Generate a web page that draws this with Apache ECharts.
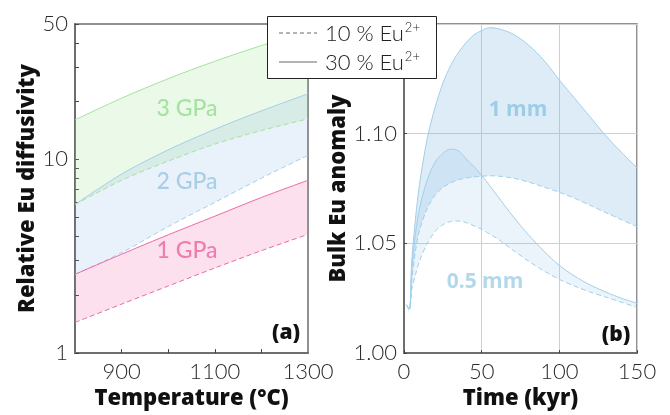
<!DOCTYPE html>
<html>
<head>
<meta charset="utf-8">
<script src="https://cdn.jsdelivr.net/npm/echarts@6/dist/echarts.min.js"></script>
<style>
html, body { margin: 0; padding: 0; background: #fff; }
#main { width: 670px; height: 415px; }
</style>
</head>
<body>
<div id="main"></div>
<script>
// panel (a): relative Eu diffusivity vs temperature
var tempC = [800, 900, 1000, 1100, 1200, 1300];
var gpa3_30 = [16.0, 20.7, 26.1, 32.1, 38.7, 46.0];
var gpa3_10 = [5.85, 7.8, 9.8, 12.0, 14.1, 16.2];
var gpa2_30 = [5.85, 8.4, 11.2, 14.3, 17.8, 21.8];
var gpa2_10 = [2.55, 3.3, 4.5, 6.0, 8.0, 10.5];
var gpa1_30 = [2.55, 3.24, 4.08, 5.09, 6.36, 7.8];
var gpa1_10 = [1.44, 1.79, 2.22, 2.75, 3.38, 4.10];

// panel (b): bulk Eu anomaly vs time
var timeKyr = [1.5, 3.5, 5, 7.5, 10, 15, 20, 25, 30, 35, 40, 45, 50, 55, 60, 70, 80, 90, 100, 110, 120, 130, 140, 150];
var mm1_30 = [1.022, 1.020, 1.042, 1.062, 1.077, 1.098, 1.112, 1.123, 1.131, 1.137, 1.1415, 1.145, 1.147, 1.1483, 1.148, 1.1455, 1.1405, 1.1335, 1.1245, 1.116, 1.1075, 1.099, 1.0915, 1.0844];
var mm1_10 = [1.022, 1.020, 1.033, 1.047, 1.056, 1.066, 1.072, 1.0755, 1.0775, 1.079, 1.0798, 1.0803, 1.0806, 1.0808, 1.0807, 1.0798, 1.078, 1.0757, 1.0733, 1.0705, 1.0673, 1.064, 1.0608, 1.0576];
var mm05_30 = [1.022, 1.020, 1.038, 1.055, 1.066, 1.079, 1.087, 1.091, 1.093, 1.0922, 1.0885, 1.085, 1.081, 1.0765, 1.0718, 1.0625, 1.054, 1.0465, 1.040, 1.035, 1.031, 1.0278, 1.025, 1.0227];
var mm05_10 = [1.022, 1.020, 1.029, 1.036, 1.042, 1.050, 1.0555, 1.0585, 1.060, 1.0602, 1.0595, 1.058, 1.0564, 1.0543, 1.0522, 1.047, 1.042, 1.0375, 1.0336, 1.0305, 1.0278, 1.0255, 1.0232, 1.0208];

var yTicksA = [1, 2, 3, 4, 5, 6, 7, 8, 9, 10, 20, 30, 40, 50];
var yLabelsA = [1, 10, 50];
var xLabelsA = [900, 1100, 1300];
var xTicksA = [900, 1000, 1100, 1200];
var yLabelsB = [1.00, 1.05, 1.10];
var legendNames = ['10 % Eu', '30 % Eu'];

var FONT = 'Lato, "Open Sans", sans-serif';
var HEAVY = '"Open Sans", Lato, sans-serif';
var AXIS = '#6e6e6e';
var SMOOTH = 0.3;

function zip(xs, ys) {
    return xs.map(function (x, i) { return [x, ys[i]]; });
}

function band(g, xs, lo, hi, color) {
    return {
        type: 'custom',
        xAxisIndex: g, yAxisIndex: g,
        silent: true, z: 1, clip: true,
        data: [[xs[0], lo[0]]],
        renderItem: function (params, api) {
            var top = [], bottom = [];
            for (var i = 0; i < xs.length; i++) {
                top.push(api.coord([xs[i], hi[i]]));
                bottom.push(api.coord([xs[i], lo[i]]));
            }
            // fill: smoothed upper edge, straight join, smoothed lower edge
            var p = [top[0]];
            var ctl = function (pts, k) {
                var a = pts[Math.max(k - 1, 0)], b = pts[k], c = pts[Math.min(k + 1, pts.length - 1)];
                return [(c[0] - a[0]) * SMOOTH / 2, (c[1] - a[1]) * SMOOTH / 2];
            };
            var d = 'M' + top[0][0] + ',' + top[0][1];
            function edge(pts) {
                for (var k = 1; k < pts.length; k++) {
                    var t0 = ctl(pts, k - 1), t1 = ctl(pts, k);
                    d += 'C' + (pts[k - 1][0] + t0[0]) + ',' + (pts[k - 1][1] + t0[1]) + ' ' +
                        (pts[k][0] - t1[0]) + ',' + (pts[k][1] - t1[1]) + ' ' + pts[k][0] + ',' + pts[k][1];
                }
            }
            edge(top);
            var rev = bottom.slice().reverse();
            d += 'L' + rev[0][0] + ',' + rev[0][1];
            edge(rev);
            d += 'Z';
            return { type: 'path', shape: { pathData: d }, style: { fill: color } };
        }
    };
}

function curve(g, xs, ys, color, dashed) {
    return {
        type: 'line',
        xAxisIndex: g, yAxisIndex: g,
        data: zip(xs, ys),
        symbol: 'none', silent: true, z: 3, smooth: SMOOTH,
        lineStyle: { color: color, width: 1, type: dashed ? [5, 3] : 'solid' }
    };
}

var tickLabel = { fontSize: 22, fontWeight: 300, color: '#2a2a2a', fontFamily: FONT };
var axisName = { fontSize: 22, fontWeight: 800, color: '#111', fontFamily: HEAVY };

var GREEN = '#a3e39c', BLUE = '#a6cde6', PINK = '#ec6aa3', BLUE_B = '#a0cfe8';

var chart = echarts.init(document.getElementById('main'));
chart.setOption({
    animation: false,
    textStyle: { fontFamily: FONT },
    grid: [
        { left: 75, top: 24, width: 233, height: 330, show: true, borderColor: AXIS, borderWidth: 1.5 },
        { left: 404, top: 24, width: 233, height: 330, show: true, borderColor: AXIS, borderWidth: 1.5 }
    ],
    xAxis: [
        {
            gridIndex: 0, type: 'value', min: 800, max: 1300,
            name: 'Temperature (°C)', nameLocation: 'middle', nameGap: 31,
            nameTextStyle: axisName,
            axisLine: { lineStyle: { color: AXIS, width: 2 } },
            axisTick: { inside: true, length: 4, customValues: xTicksA, lineStyle: { color: '#444' } },
            axisLabel: Object.assign({ customValues: xLabelsA, margin: 8, formatter: function (v) { return String(v); } }, tickLabel),
            splitLine: { show: false }
        },
        {
            gridIndex: 1, type: 'value', min: 0, max: 150, interval: 50,
            name: 'Time (kyr)', nameLocation: 'middle', nameGap: 31,
            nameTextStyle: axisName,
            axisLine: { lineStyle: { color: AXIS, width: 2 } },
            axisTick: { inside: true, length: 3, lineStyle: { color: '#444' } },
            axisLabel: Object.assign({ margin: 8 }, tickLabel),
            splitLine: { show: true, lineStyle: { color: '#cfcfcf', width: 1 } }
        }
    ],
    yAxis: [
        {
            gridIndex: 0, type: 'log', logBase: 10, min: 1, max: 50,
            name: 'Relative Eu diffusivity', nameLocation: 'middle', nameGap: 36,
            nameTextStyle: axisName,
            axisLine: { lineStyle: { color: AXIS, width: 2 } },
            axisTick: { inside: true, length: 4, customValues: yTicksA, lineStyle: { color: '#444' } },
            axisLabel: Object.assign({ customValues: yLabelsA, margin: 7 }, tickLabel),
            splitLine: { show: false }
        },
        {
            gridIndex: 1, type: 'value', min: 1.00, max: 1.15, interval: 0.05,
            name: 'Bulk Eu anomaly', nameLocation: 'middle', nameGap: 52,
            nameTextStyle: axisName,
            axisLine: { lineStyle: { color: AXIS, width: 2 } },
            axisTick: { inside: true, length: 3, lineStyle: { color: '#444' } },
            axisLabel: Object.assign({
                customValues: yLabelsB, margin: 7,
                formatter: function (v) { return v.toFixed(2); }
            }, tickLabel),
            splitLine: { show: true, lineStyle: { color: '#cfcfcf', width: 1 } }
        }
    ],
    series: [
        band(0, tempC, gpa3_10, gpa3_30, 'rgba(150,225,140,0.2)'),
        band(0, tempC, gpa2_10, gpa2_30, 'rgba(120,170,225,0.16)'),
        band(0, tempC, gpa1_10, gpa1_30, 'rgba(240,100,170,0.2)'),
        curve(0, tempC, gpa3_30, GREEN, false),
        curve(0, tempC, gpa3_10, GREEN, true),
        curve(0, tempC, gpa2_30, BLUE, false),
        curve(0, tempC, gpa2_10, BLUE, true),
        curve(0, tempC, gpa1_30, PINK, false),
        curve(0, tempC, gpa1_10, PINK, true),

        band(1, timeKyr, mm1_10, mm1_30, 'rgba(120,180,225,0.25)'),
        band(1, timeKyr, mm05_10, mm05_30, 'rgba(120,180,225,0.15)'),
        curve(1, timeKyr, mm1_30, BLUE_B, false),
        curve(1, timeKyr, mm1_10, BLUE_B, true),
        curve(1, timeKyr, mm05_30, BLUE_B, false),
        curve(1, timeKyr, mm05_10, BLUE_B, true)
    ],
    graphic: [
        { type: 'text', x: 187, y: 109, z: 5, style: { text: '3 GPa', fill: '#a6e3a0', font: '500 23px ' + FONT, align: 'center', verticalAlign: 'middle' } },
        { type: 'text', x: 187, y: 182, z: 5, style: { text: '2 GPa', fill: '#a8cfe7', font: '500 23px ' + FONT, align: 'center', verticalAlign: 'middle' } },
        { type: 'text', x: 187, y: 251, z: 5, style: { text: '1 GPa', fill: '#ee7db0', font: '500 23px ' + FONT, align: 'center', verticalAlign: 'middle' } },
        { type: 'text', x: 286, y: 333, z: 5, style: { text: '(a)', fill: '#111', font: '800 21px ' + HEAVY, align: 'center', verticalAlign: 'middle' } },
        { type: 'text', x: 518, y: 110, z: 5, style: { text: '1 mm', fill: '#9ccde6', font: '700 21px ' + HEAVY, align: 'center', verticalAlign: 'middle' } },
        { type: 'text', x: 485, y: 282, z: 5, style: { text: '0.5 mm', fill: '#b3d8ec', font: '700 21px ' + HEAVY, align: 'center', verticalAlign: 'middle' } },
        { type: 'text', x: 616, y: 335, z: 5, style: { text: '(b)', fill: '#111', font: '800 21px ' + HEAVY, align: 'center', verticalAlign: 'middle' } },
        // legend box
        { type: 'rect', z: 20, shape: { x: 267.5, y: 16.5, width: 169, height: 62 }, style: { fill: '#fff', stroke: '#222', lineWidth: 1 } },
        { type: 'line', z: 21, shape: { x1: 279, y1: 33, x2: 317, y2: 33 }, style: { stroke: '#6a6a6a', lineWidth: 1.2, lineDash: [4, 3] } },
        { type: 'line', z: 21, shape: { x1: 279, y1: 62, x2: 317, y2: 62 }, style: { stroke: '#6a6a6a', lineWidth: 1.2 } },
        { type: 'text', z: 21, x: 325, y: 34, style: {
            text: '{t|' + legendNames[0] + '}{s|2+}', verticalAlign: 'middle',
            rich: {
                t: { fontSize: 22, fontWeight: 300, fill: '#222', fontFamily: FONT, lineHeight: 26 },
                s: { fontSize: 13, fontWeight: 300, fill: '#222', fontFamily: FONT, verticalAlign: 'top', lineHeight: 26, padding: [0, 0, 8, 1] }
            } } },
        { type: 'text', z: 21, x: 325, y: 63, style: {
            text: '{t|' + legendNames[1] + '}{s|2+}', verticalAlign: 'middle',
            rich: {
                t: { fontSize: 22, fontWeight: 300, fill: '#222', fontFamily: FONT, lineHeight: 26 },
                s: { fontSize: 13, fontWeight: 300, fill: '#222', fontFamily: FONT, verticalAlign: 'top', lineHeight: 26, padding: [0, 0, 8, 1] }
            } } }
    ]
});
</script>
</body>
</html>
